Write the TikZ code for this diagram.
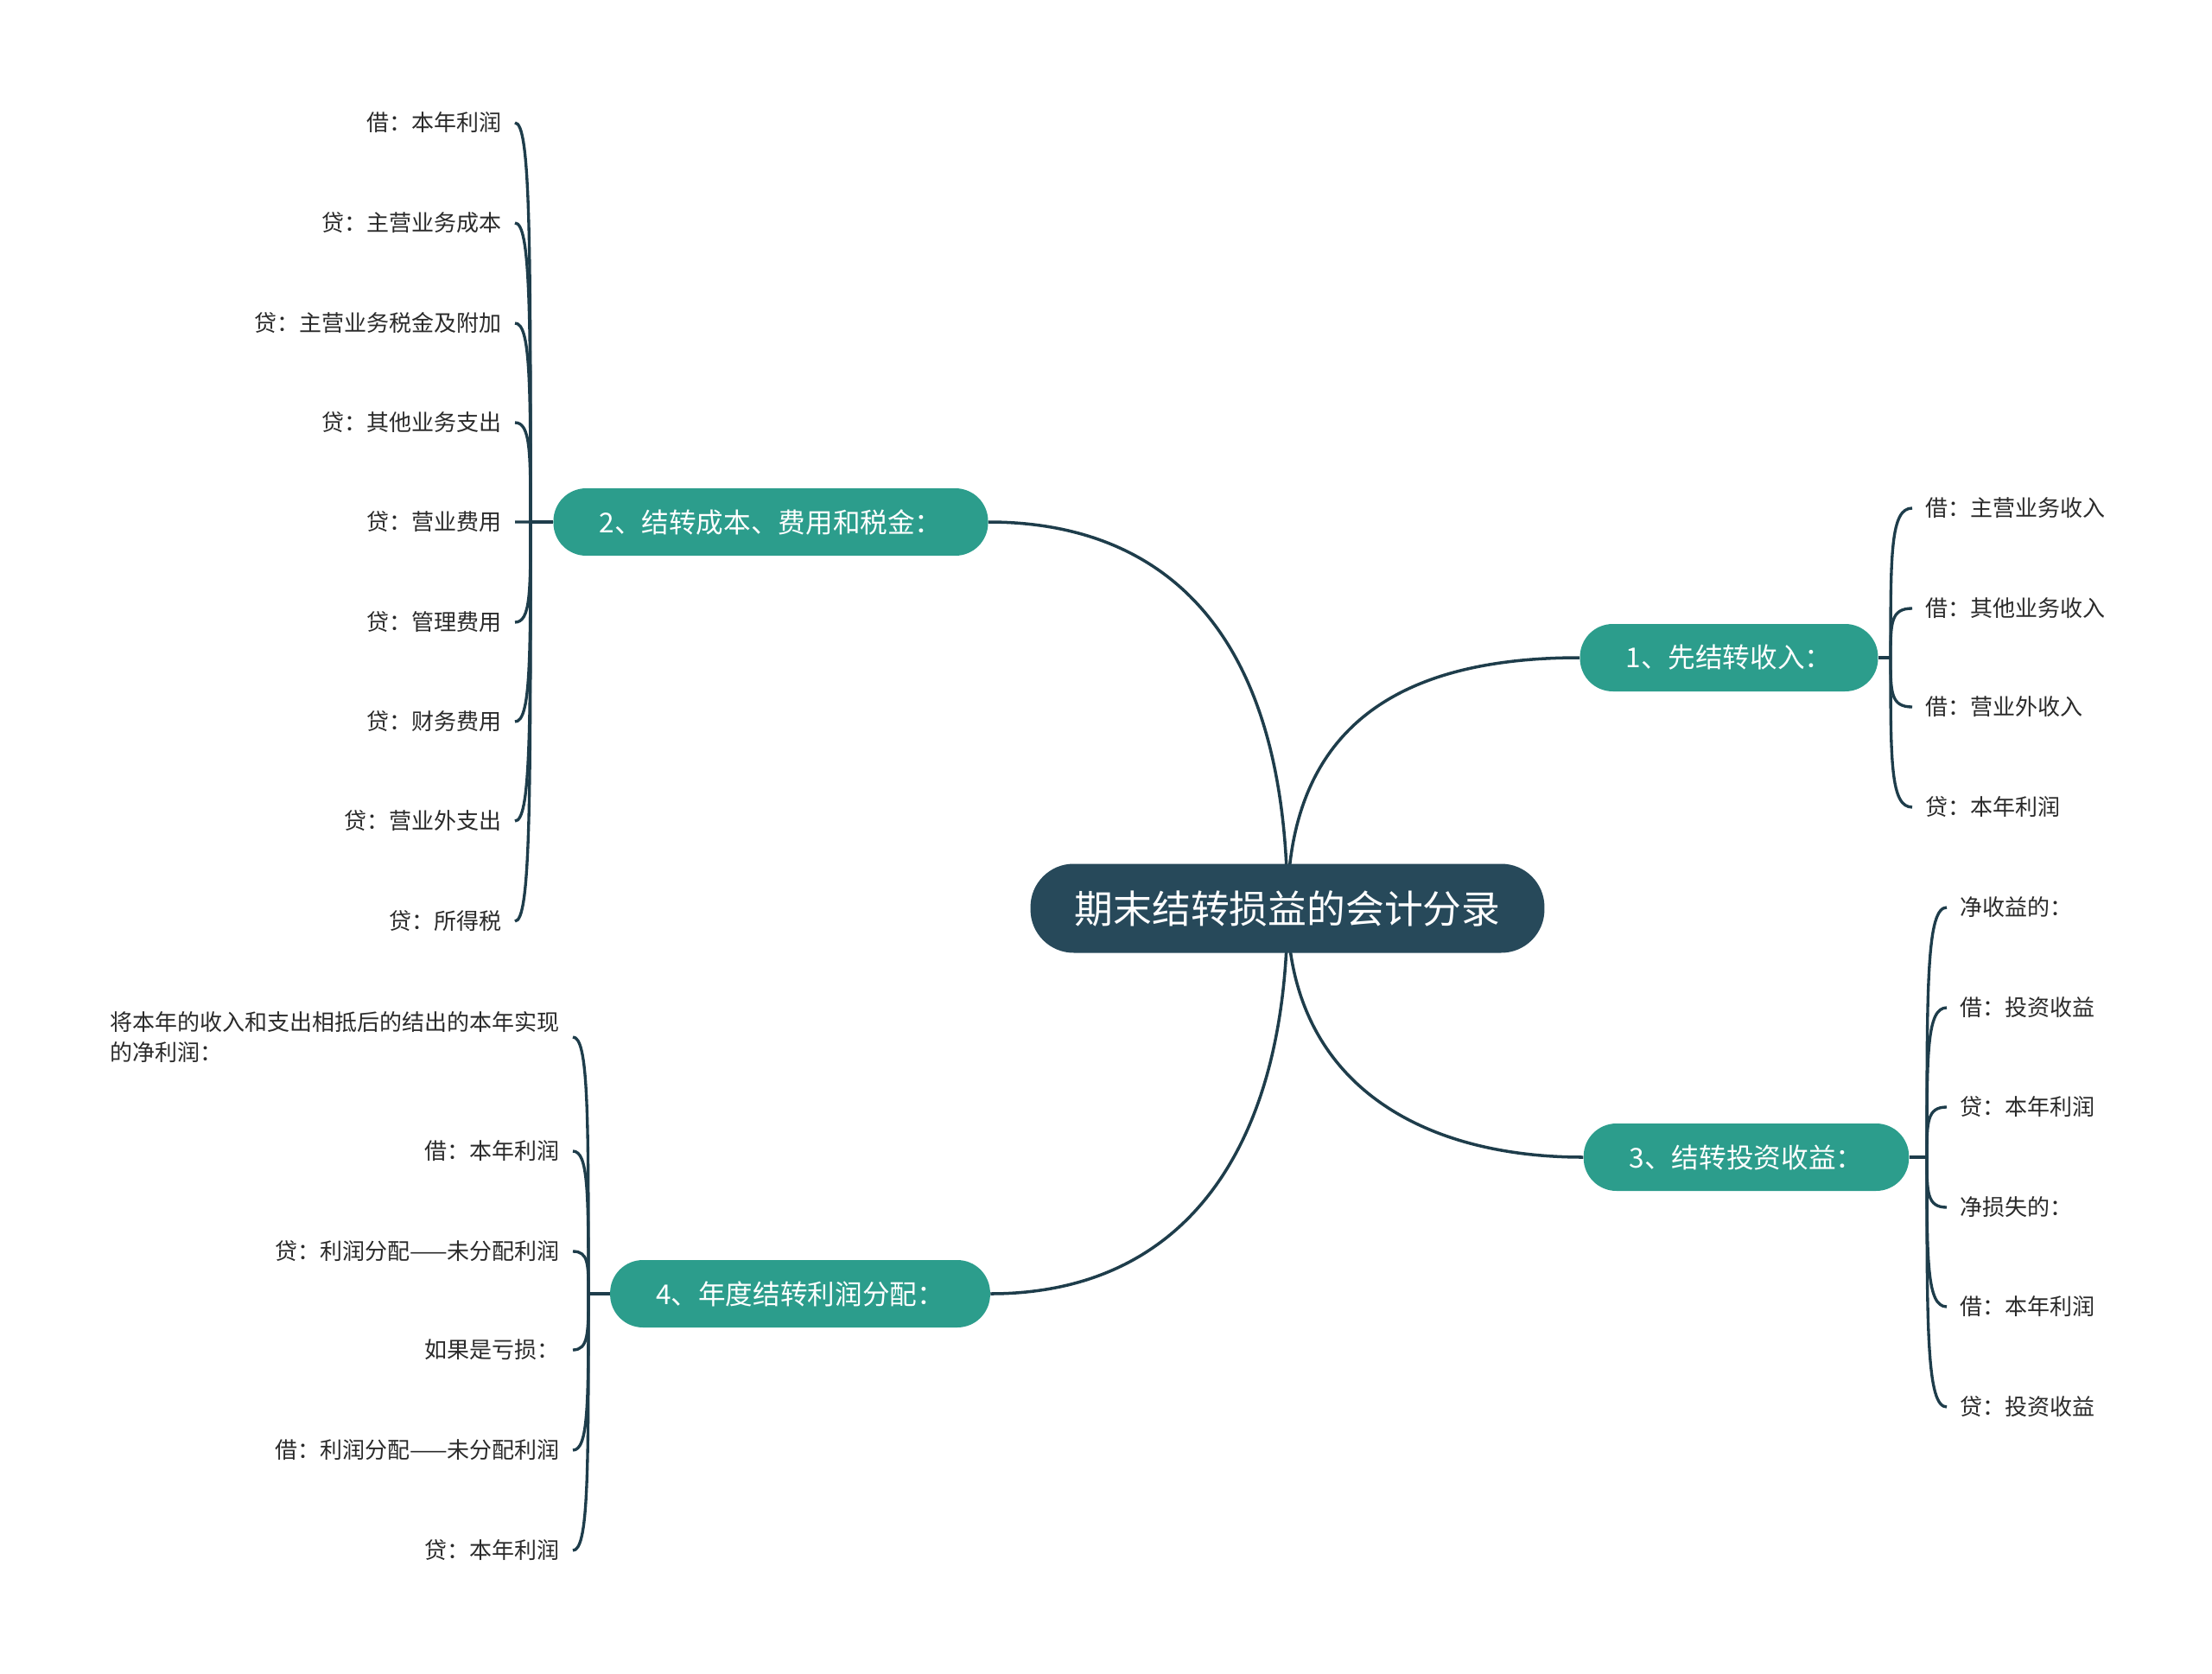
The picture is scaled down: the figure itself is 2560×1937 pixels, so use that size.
\documentclass[tikz,border=0pt]{standalone}
\usepackage{fontspec}
\setmainfont{Noto Sans CJK SC}
\usepackage{xcolor}
\usetikzlibrary{calc}
\definecolor{rootblue}{HTML}{27495A}
\definecolor{branchgreen}{HTML}{2C9D8C}
\definecolor{linedark}{HTML}{1E3D4B}
\definecolor{leaftext}{HTML}{2A2A2A}
\pgfdeclarelayer{bg}
\pgfsetlayers{bg,main}

\begin{document}
\begin{tikzpicture}[x=0.02cm,y=-0.02cm,
  rootnode/.style={fill=rootblue,text=white,rounded corners=1cm,minimum height=2.06cm,minimum width=11.9cm,font=\fontsize{25.5}{30}\selectfont},
  branchnode/.style={fill=branchgreen,text=white,rounded corners=0.76cm,minimum height=1.56cm,inner xsep=1.06cm,font=\fontsize{18}{22}\selectfont},
  leafnode/.style={text=leaftext,inner xsep=0.3cm,inner ysep=2pt,font=\fontsize{14.8}{19.5}\selectfont},
  mainline/.style={draw=linedark,line width=2pt},
  leafline/.style={draw=linedark,line width=1.9pt}]
\useasboundingbox (0,0) rectangle (2560,1937);

\node[rootnode] (root) at (1490,1051) {期末结转损益的会计分录};

\node[branchnode] (b1) at (2001,761) {1、先结转收入：};
\node[branchnode] (b2) at (892,604) {2、结转成本、费用和税金：};
\node[branchnode] (b3) at (2021,1339) {3、结转投资收益：};
\node[branchnode] (b4) at (926,1497) {4、年度结转利润分配：};

% spines
\coordinate (s1) at (2188,761);
\coordinate (s2) at (614,604);
\coordinate (s3) at (2230,1339);
\coordinate (s4) at (681,1497);

% 1
\node[leafnode,anchor=west] (inc1) at (2213,588) {借：主营业务收入};
\node[leafnode,anchor=west] (inc2) at (2213,704) {借：其他业务收入};
\node[leafnode,anchor=west] (inc3) at (2213,818) {借：营业外收入};
\node[leafnode,anchor=west] (inc4) at (2213,934) {贷：本年利润};

% 2
\node[leafnode,anchor=east] (cost1) at (596,142) {借：本年利润};
\node[leafnode,anchor=east] (cost2) at (596,258) {贷：主营业务成本};
\node[leafnode,anchor=east] (cost3) at (596,374) {贷：主营业务税金及附加};
\node[leafnode,anchor=east] (cost4) at (596,489) {贷：其他业务支出};
\node[leafnode,anchor=east] (cost5) at (596,604) {贷：营业费用};
\node[leafnode,anchor=east] (cost6) at (596,720) {贷：管理费用};
\node[leafnode,anchor=east] (cost7) at (596,835) {贷：财务费用};
\node[leafnode,anchor=east] (cost8) at (596,950) {贷：营业外支出};
\node[leafnode,anchor=east] (cost9) at (596,1066) {贷：所得税};

% 3
\node[leafnode,anchor=west] (inv1) at (2253,1050) {净收益的：};
\node[leafnode,anchor=west] (inv2) at (2253,1166) {借：投资收益};
\node[leafnode,anchor=west] (inv3) at (2253,1281) {贷：本年利润};
\node[leafnode,anchor=west] (inv4) at (2253,1397) {净损失的：};
\node[leafnode,anchor=west] (inv5) at (2253,1512) {借：本年利润};
\node[leafnode,anchor=west] (inv6) at (2253,1628) {贷：投资收益};

% 4
\node[leafnode,anchor=east,align=left] (dist1) at (663,1200) {将本年的收入和支出相抵后的结出的本年实现\\的净利润：};
\node[leafnode,anchor=east] (dist2) at (663,1332) {借：本年利润};
\node[leafnode,anchor=east] (dist3) at (663,1448) {贷：利润分配——未分配利润};
\node[leafnode,anchor=east] (dist4) at (663,1562) {如果是亏损：};
\node[leafnode,anchor=east] (dist5) at (663,1678) {借：利润分配——未分配利润};
\node[leafnode,anchor=east] (dist6) at (663,1794) {贷：本年利润};

\begin{pgfonlayer}{bg}
\draw[mainline] (root.center) .. controls (1490,840) and (1620,761) .. (b1.west);
\draw[mainline] (root.center) .. controls (1490,700) and (1320,604) .. (b2.east);
\draw[mainline] (root.center) .. controls (1490,1250) and (1640,1339) .. (b3.west);
\draw[mainline] (root.center) .. controls (1490,1330) and (1370,1497) .. (b4.east);

\draw[leafline] (b1.east) -- (s1);
\draw[leafline] (b2.west) -- (s2);
\draw[leafline] (b3.east) -- (s3);
\draw[leafline] (b4.west) -- (s4);

\foreach \n in {inc1,inc2,inc3,inc4}
  \draw[leafline] (s1) .. controls ($(s1)!.7!(s1|-\n.west)$) and (s1|-\n.west) .. (\n.west);
\foreach \n in {inv1,inv2,inv3,inv4,inv5,inv6}
  \draw[leafline] (s3) .. controls ($(s3)!.7!(s3|-\n.west)$) and (s3|-\n.west) .. (\n.west);
\foreach \n in {cost1,cost2,cost3,cost4,cost5,cost6,cost7,cost8,cost9}
  \draw[leafline] (s2) .. controls ($(s2)!.7!(s2|-\n.east)$) and (s2|-\n.east) .. (\n.east);
\foreach \n in {dist1,dist2,dist3,dist4,dist5,dist6}
  \draw[leafline] (s4) .. controls ($(s4)!.7!(s4|-\n.east)$) and (s4|-\n.east) .. (\n.east);
\end{pgfonlayer}
\end{tikzpicture}
\end{document}
